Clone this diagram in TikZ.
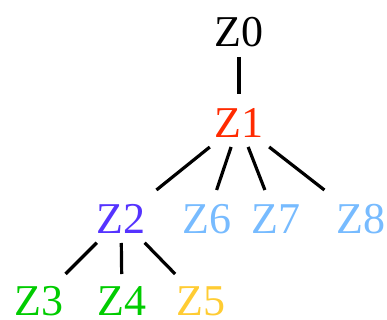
\documentclass[tikz,border=0pt]{standalone}
\usepackage{fontspec}
\setmainfont{Liberation Serif}
\definecolor{zred}{HTML}{FF2A00}
\definecolor{zpurple}{HTML}{5533FF}
\definecolor{zlblue}{HTML}{77BBFF}
\definecolor{zgreen}{HTML}{00CC00}
\definecolor{zyellow}{HTML}{FFCC33}
\tikzset{
  lbl/.style={anchor=base, inner sep=0pt, text height=29pt, text depth=0pt,
    font=\fontsize{44}{50}\selectfont},
  edge/.style={line width=3.2pt, black}
}
\begin{document}
\begin{tikzpicture}[x=1pt,y=-1pt]
\useasboundingbox (0,0) rectangle (387,320);
\node[lbl] (Z0) at (239,47) {Z0};
\node[lbl, text=zred] (Z1) at (239,138) {Z1};
\node[lbl, text=zpurple] (Z2) at (121,233) {Z2};
\node[lbl, text=zlblue] (Z6) at (207,233) {Z6};
\node[lbl, text=zlblue] (Z7) at (276,233) {Z7};
\node[lbl, text=zlblue] (Z8) at (361,233) {Z8};
\node[lbl, text=zgreen] (Z3) at (39,315) {Z3};
\node[lbl, text=zgreen] (Z4) at (122,315) {Z4};
\node[lbl, text=zyellow] (Z5) at (201,315) {Z5};
\draw[edge, shorten <=24.5pt, shorten >=29.5pt] (Z0.center) -- (Z1.center);
\draw[edge, shorten <=37.5pt, shorten >=45.5pt] (Z1.center) -- (Z2.center);
\draw[edge, shorten <=24.8pt, shorten >=30.1pt] (Z1.center) -- (Z6.center);
\draw[edge, shorten <=25.2pt, shorten >=30.6pt] (Z1.center) -- (Z7.center);
\draw[edge, shorten <=38.2pt, shorten >=46.4pt] (Z1.center) -- (Z8.center);
\draw[edge, shorten <=34.2pt, shorten >=37.5pt] (Z2.center) -- (Z3.center);
\draw[edge, shorten <=24.5pt, shorten >=26.5pt] (Z2.center) -- (Z4.center);
\draw[edge, shorten <=33.9pt, shorten >=37pt] (Z2.center) -- (Z5.center);
\end{tikzpicture}
\end{document}
